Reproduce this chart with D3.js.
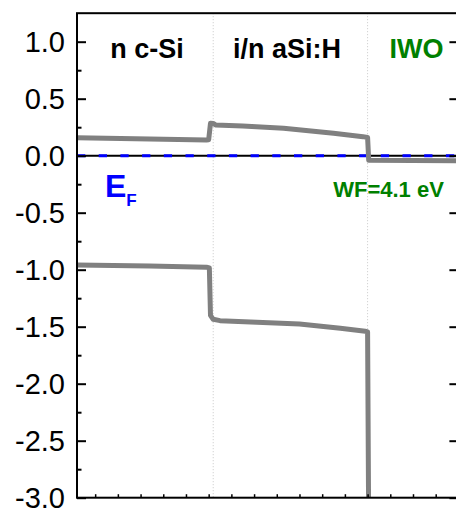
<!DOCTYPE html>
<html>
<head>
<meta charset="utf-8">
<script src="https://cdn.jsdelivr.net/npm/d3@7"></script>
<style>
  html, body { margin: 0; padding: 0; background: #fff; }
  svg { display: block; }
  text { font-family: "Liberation Sans", Arial, sans-serif; }
</style>
</head>
<body>
<svg id="chart" width="456" height="510"></svg>
<script>
// Band diagram of an n c-Si / (i/n) a-Si:H / IWO stack (energies in eV, relative to E_F)

// Layer boundaries (position, nm)
const interfaces = [0.2, 7.0];

// Conduction band edge: [position, energy]
const cbPos = [-5.8, -2.6, -0.1, 0.0, 0.08, 0.2, 0.3, 1.5, 3.3, 5.5, 6.8, 7.0, 7.05, 11.1];
const cbE   = [0.158, 0.146, 0.138, 0.14, 0.285, 0.283, 0.27, 0.26, 0.24, 0.196, 0.167, 0.16, -0.04, -0.045];

// Valence band edge: [position, energy]
const vbPos = [-5.8, -2.6, -0.1, 0.03, 0.08, 0.2, 0.5, 4.0, 5.8, 6.9, 7.0, 7.05];
const vbE   = [-0.959, -0.968, -0.978, -0.985, -1.40, -1.435, -1.447, -1.476, -1.514, -1.54, -1.545, -3.3];

// Fermi level
const fermiE = 0.0;

// Axis ticks
const yMajorTicks = [-3.0, -2.5, -2.0, -1.5, -1.0, -0.5, 0.0, 0.5, 1.0];
const yMinorTicks = [-2.75, -2.25, -1.75, -1.25, -0.75, -0.25, 0.25, 0.75];
const xTicks = [-5, -4, -3, -2, -1, 0, 1, 2, 3, 4, 5, 6, 7, 8, 9, 10, 11];

// Layer labels
const layerLabels = ["n c-Si", "i/n aSi:H", "IWO"];
const wfLabel = "WF=4.1 eV";

const svg = d3.select("#chart");
const mLeft = 77, mTop = 13.2, mRight = 458.4, mBottom = 497.7;

const x = d3.scaleLinear().domain([-5.8, 11.0]).range([mLeft, mRight]);
const y = d3.scaleLinear().domain([-3.0, 1.25]).range([mBottom, mTop]);

svg.append("defs").append("clipPath").attr("id", "plotClip")
  .append("rect").attr("x", mLeft).attr("y", mTop)
  .attr("width", mRight - mLeft).attr("height", mBottom - mTop);

// Layer boundaries: light dotted verticals
svg.append("g").selectAll("line").data(interfaces).join("line")
  .attr("x1", d => x(d)).attr("x2", d => x(d))
  .attr("y1", mTop).attr("y2", mBottom)
  .attr("stroke", "#c8c8c8").attr("stroke-width", 1)
  .attr("stroke-dasharray", "1,2");

const plot = svg.append("g").attr("clip-path", "url(#plotClip)");

// Fermi level: black line with blue dashes on top
plot.append("line")
  .attr("x1", mLeft).attr("x2", mRight)
  .attr("y1", y(fermiE)).attr("y2", y(fermiE))
  .attr("stroke", "#000").attr("stroke-width", 2);
plot.append("line")
  .attr("x1", mLeft).attr("x2", mRight)
  .attr("y1", y(fermiE)).attr("y2", y(fermiE))
  .attr("stroke", "#0000ff").attr("stroke-width", 3)
  .attr("stroke-dasharray", "8.3,13.4");

// Band edges
const line = d3.line().x(d => x(d[0])).y(d => y(d[1]));
const cb = cbPos.map((p, i) => [p, cbE[i]]);
const vb = vbPos.map((p, i) => [p, vbE[i]]);
[cb, vb].forEach(band => {
  plot.append("path").datum(band)
    .attr("d", line)
    .attr("fill", "none")
    .attr("stroke", "#808080")
    .attr("stroke-width", 5)
    .attr("stroke-linejoin", "round")
    .attr("stroke-linecap", "butt");
});

// Axes
const fmt = v => d3.format(".1f")(v).replace("\u2212", "-");

const yAxis = svg.append("g").attr("transform", `translate(${mLeft},0)`)
  .call(d3.axisLeft(y).tickValues(yMajorTicks).tickFormat(fmt)
    .tickSizeInner(-9).tickSizeOuter(0).tickPadding(12));
yAxis.select(".domain").remove();
yAxis.selectAll(".tick line").attr("stroke", "#000").attr("stroke-width", 2);
yAxis.selectAll("text").attr("font-size", 29).attr("fill", "#000").attr("dy", "0.34em");

const yMinor = svg.append("g").attr("transform", `translate(${mLeft},0)`)
  .call(d3.axisLeft(y).tickValues(yMinorTicks).tickFormat("")
    .tickSizeInner(-4.5).tickSizeOuter(0));
yMinor.select(".domain").remove();
yMinor.selectAll(".tick line").attr("stroke", "#000").attr("stroke-width", 2);

const yRight = svg.append("g").attr("transform", `translate(${mRight},0)`)
  .call(d3.axisRight(y).tickValues(yMajorTicks).tickFormat("")
    .tickSizeInner(-9).tickSizeOuter(0));
yRight.select(".domain").remove();
yRight.selectAll(".tick line").attr("stroke", "#000").attr("stroke-width", 2);

const xAxis = svg.append("g").attr("transform", `translate(0,${mBottom})`)
  .call(d3.axisBottom(x).tickValues(xTicks).tickFormat("")
    .tickSizeInner(-3.5).tickSizeOuter(0));
xAxis.select(".domain").remove();
xAxis.selectAll(".tick line").attr("stroke", "#000").attr("stroke-width", 1.5);

// Frame
svg.append("rect")
  .attr("x", mLeft).attr("y", mTop)
  .attr("width", mRight - mLeft).attr("height", mBottom - mTop)
  .attr("fill", "none").attr("stroke", "#000").attr("stroke-width", 2);

// Layer labels
const labelX = [-2.72, 3.45, 9.15];
const labelColor = ["#000", "#000", "#008000"];
svg.append("g").selectAll("text").data(layerLabels).join("text")
  .attr("x", (d, i) => x(labelX[i]))
  .attr("y", 58)
  .attr("text-anchor", "middle")
  .attr("font-size", 27).attr("font-weight", "bold")
  .attr("fill", (d, i) => labelColor[i])
  .text(d => d);

// Work function annotation
svg.append("text")
  .attr("x", 388.5).attr("y", 197)
  .attr("text-anchor", "middle")
  .attr("font-size", 22).attr("font-weight", "bold")
  .attr("fill", "#008000")
  .text(wfLabel);

// Fermi level label
const ef = svg.append("text").attr("x", 105).attr("y", 197)
  .attr("font-weight", "bold").attr("fill", "#0000ff");
ef.append("tspan").attr("font-size", 32).text("E");
ef.append("tspan").attr("font-size", 17).attr("dy", 9).text("F");
</script>
</body>
</html>
